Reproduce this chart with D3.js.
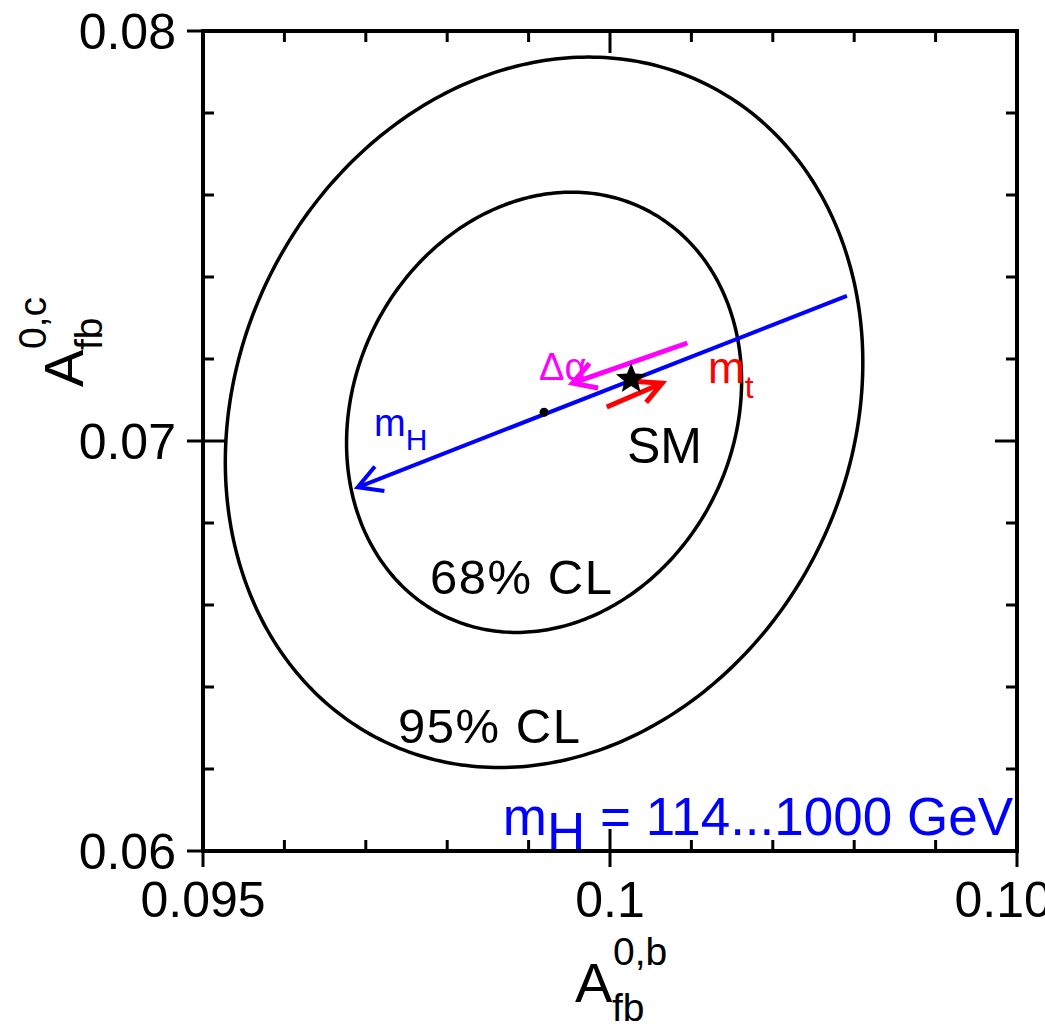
<!DOCTYPE html>
<html>
<head>
<meta charset="utf-8">
<script src="https://cdn.jsdelivr.net/npm/d3@7"></script>
<style>
  html, body { margin: 0; padding: 0; background: #fff; }
  svg { display: block; }
  text { font-family: "Liberation Sans", Arial, Helvetica, sans-serif; }
</style>
</head>
<body>
<svg id="chart" width="1045" height="1027"></svg>
<script>
// ---------------- data ----------------
const xDomain = [0.095, 0.105];
const yDomain = [0.06, 0.08];
const xMajorTicks = [0.095, 0.1, 0.105];
const xTickLabels = ["0.095", "0.1", "0.105"];
const yMajorTicks = [0.06, 0.07, 0.08];
const yTickLabels = ["0.06", "0.07", "0.08"];
const xMinorStep = 0.001;
const yMinorStep = 0.002;

// fit result (centre, sigmas, correlation) and contour levels (delta chi^2)
const fitCenter = [0.09919, 0.07070];
const fitSigma = [0.0016, 0.00354];
const fitRho = 0.14;
const clLevels = [2.30, 5.99];
const clNames = ["68% CL", "95% CL"];

// SM point and parameter-variation arrows [start, tip]
const smPoint = [0.10026, 0.07151];
const mHArrow = [[0.10291, 0.07354], [0.09690, 0.06887]];
const alphaArrow = [[0.10095, 0.07239], [0.09954, 0.07141]];
const mtArrow = [[0.09996, 0.07083], [0.10064, 0.07141]];

// ---------------- layout ----------------
const svg = d3.select("#chart");
const L = 203, R = 1017, T = 31, B = 851;
const x = d3.scaleLinear().domain(xDomain).range([L, R]);
const y = d3.scaleLinear().domain(yDomain).range([B, T]);

const minorIn = 11, majorIn = 22, majorOut = 16;

// contours
const line = d3.line().x(d => x(d[0])).y(d => y(d[1])).curve(d3.curveLinearClosed);
clLevels.forEach(lvl => {
  const k = Math.sqrt(lvl);
  const pts = d3.range(0, 360, 1).map(deg => {
    const t = deg * Math.PI / 180;
    const dx = k * fitSigma[0] * Math.cos(t);
    const dy = k * fitSigma[1] * (fitRho * Math.cos(t) + Math.sqrt(1 - fitRho * fitRho) * Math.sin(t));
    return [fitCenter[0] + dx, fitCenter[1] + dy];
  });
  svg.append("path").attr("d", line(pts)).attr("fill", "none")
    .attr("stroke", "#000").attr("stroke-width", 3.5);
});

// arrows
function arrow(seg, color, width, headLen, headAng) {
  const x0 = x(seg[0][0]), y0 = y(seg[0][1]);
  const x1 = x(seg[1][0]), y1 = y(seg[1][1]);
  svg.append("line").attr("x1", x0).attr("y1", y0).attr("x2", x1).attr("y2", y1)
    .attr("stroke", color).attr("stroke-width", width);
  const a = Math.atan2(y0 - y1, x0 - x1);
  const h = headAng * Math.PI / 180;
  const p = `M${x1 + headLen * Math.cos(a + h)},${y1 + headLen * Math.sin(a + h)} L${x1},${y1} L${x1 + headLen * Math.cos(a - h)},${y1 + headLen * Math.sin(a - h)}`;
  svg.append("path").attr("d", p).attr("fill", "none").attr("stroke", color)
    .attr("stroke-width", width).attr("stroke-linejoin", "miter");
}
arrow(mHArrow, "#0000ff", 4, 27, 29);
arrow(alphaArrow, "#ff00ff", 5, 26, 30);
arrow(mtArrow, "#ff0000", 5, 25, 27);

// fit centre dot
svg.append("circle").attr("cx", x(fitCenter[0])).attr("cy", y(fitCenter[1]))
  .attr("r", 4.5).attr("fill", "#000");

// SM star
function starPath(cx, cy, Ro, Ri) {
  let s = "";
  for (let i = 0; i < 10; i++) {
    const r = i % 2 === 0 ? Ro : Ri;
    const ang = -Math.PI / 2 + i * Math.PI / 5;
    s += (i === 0 ? "M" : "L") + (cx + r * Math.cos(ang)) + "," + (cy + r * Math.sin(ang));
  }
  return s + "Z";
}
svg.append("path").attr("d", starPath(x(smPoint[0]), y(smPoint[1]), 16, 7)).attr("fill", "#000");

// labels
svg.append("text").attr("x", 539).attr("y", 380).attr("font-size", 38).attr("fill", "#ff00ff")
  .text("Δα");
const mt = svg.append("text").attr("x", 708).attr("y", 383).attr("font-size", 44).attr("fill", "#ff0000");
mt.append("tspan").text("m");
mt.append("tspan").attr("dy", 15).attr("font-size", 32).text("t");
const mh = svg.append("text").attr("x", 374).attr("y", 436).attr("font-size", 38).attr("fill", "#0000ff");
mh.append("tspan").text("m");
mh.append("tspan").attr("dy", 14).attr("font-size", 30).text("H");
svg.append("text").attr("x", 627).attr("y", 463).attr("font-size", 50).attr("fill", "#000").text("SM");
svg.append("text").attr("x", 430).attr("y", 594).attr("font-size", 49).attr("fill", "#000")
  .attr("textLength", 182).attr("lengthAdjust", "spacing").text(clNames[0]);
svg.append("text").attr("x", 398).attr("y", 743).attr("font-size", 49).attr("fill", "#000")
  .attr("textLength", 182).attr("lengthAdjust", "spacing").text(clNames[1]);

const rangeLbl = svg.append("text").attr("x", 1013).attr("y", 835).attr("text-anchor", "end")
  .attr("font-size", 53).attr("fill", "#0000ff");
rangeLbl.append("tspan").text("m");
rangeLbl.append("tspan").attr("dy", 15).text("H");
rangeLbl.append("tspan").attr("dy", -15).text(" = 114...1000 GeV");

// frame
svg.append("rect").attr("x", L).attr("y", T).attr("width", R - L).attr("height", B - T)
  .attr("fill", "none").attr("stroke", "#000").attr("stroke-width", 4);

const tickG = svg.append("g").attr("stroke", "#000").attr("stroke-width", 3);
const isMajor = (v, majors) => majors.some(m => Math.abs(m - v) < 1e-9);
// x ticks
d3.range(0, 11).map(i => xDomain[0] + i * xMinorStep).forEach(v => {
  const px = x(v);
  const maj = isMajor(v, xMajorTicks);
  const inLen = maj ? majorIn : minorIn;
  tickG.append("line").attr("x1", px).attr("x2", px).attr("y1", B + (maj ? majorOut : 0)).attr("y2", B - inLen);
  tickG.append("line").attr("x1", px).attr("x2", px).attr("y1", T).attr("y2", T + inLen);
});
// y ticks
d3.range(0, 11).map(i => yDomain[0] + i * yMinorStep).forEach(v => {
  const py = y(v);
  const maj = isMajor(v, yMajorTicks);
  const inLen = maj ? majorIn : minorIn;
  tickG.append("line").attr("y1", py).attr("y2", py).attr("x1", L - (maj ? majorOut : 0)).attr("x2", L + inLen);
  tickG.append("line").attr("y1", py).attr("y2", py).attr("x1", R).attr("x2", R - inLen);
});

// tick labels
xMajorTicks.forEach((v, i) => {
  svg.append("text").attr("x", x(v)).attr("y", 917).attr("text-anchor", "middle")
    .attr("font-size", 50).attr("fill", "#000").text(xTickLabels[i]);
});
yMajorTicks.forEach((v, i) => {
  svg.append("text").attr("x", 176).attr("y", y(v) + 18).attr("text-anchor", "end")
    .attr("font-size", 50).attr("fill", "#000").text(yTickLabels[i]);
});

// axis titles
function axisTitle(g, sup) {
  g.append("text").attr("x", 0).attr("y", 0).attr("font-size", 56).attr("fill", "#000").text("A");
  g.append("text").attr("x", 37).attr("y", 19).attr("font-size", 39).attr("fill", "#000").text("fb");
  g.append("text").attr("x", 38).attr("y", -37).attr("font-size", 39).attr("fill", "#000").text(sup);
}
axisTitle(svg.append("g").attr("transform", "translate(575,1002)"), "0,b");
axisTitle(svg.append("g").attr("transform", "translate(83,387) rotate(-90)"), "0,c");
</script>
</body>
</html>
